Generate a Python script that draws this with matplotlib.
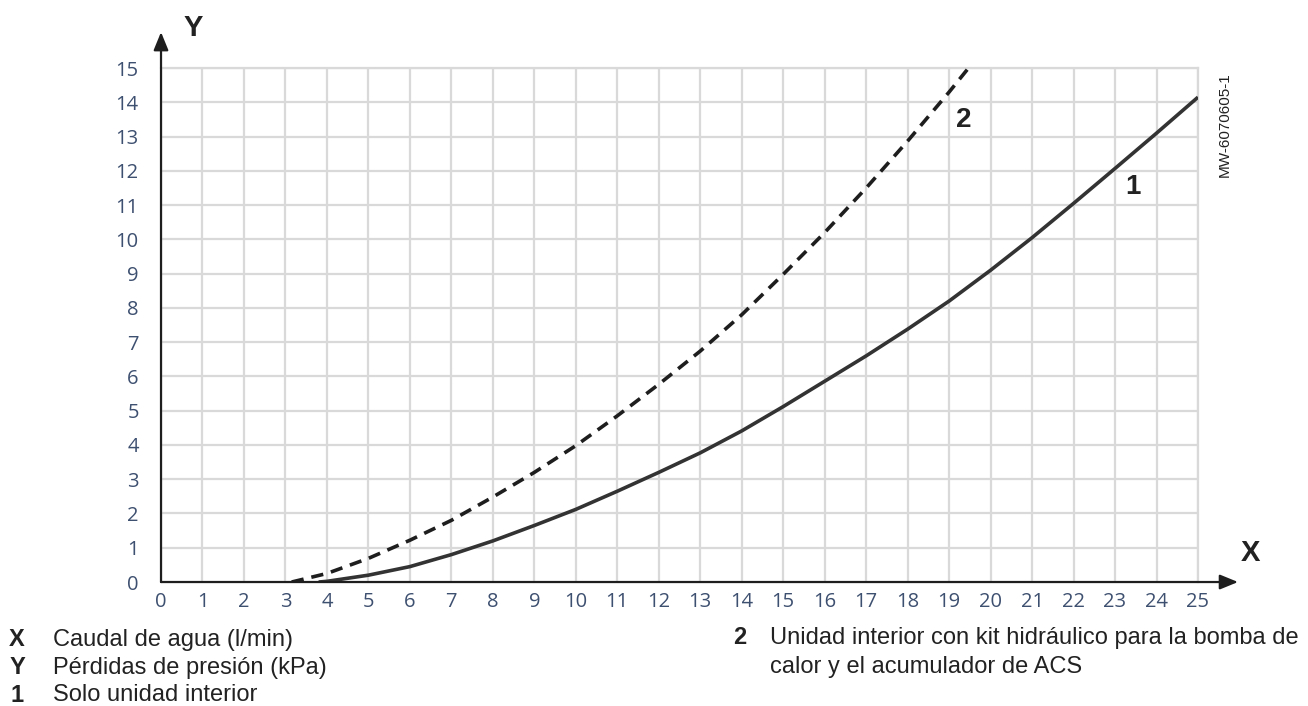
import matplotlib.pyplot as plt

# flow (l/min) and pressure loss (kPa)
x_unit = [3.8, 4, 5, 6, 7, 8, 9, 10, 11, 12, 13, 14, 15, 16, 17, 18, 19, 20, 21, 22, 23, 24, 25]
y_unit = [0.0, 0.02, 0.2, 0.45, 0.8, 1.2, 1.65, 2.12, 2.65, 3.2, 3.77, 4.41, 5.12, 5.86, 6.6,
          7.38, 8.2, 9.1, 10.05, 11.05, 12.07, 13.1, 14.15]

x_kit = [3.15, 4, 5, 6, 7, 8, 9, 10, 11, 12, 13, 14, 15, 16, 17, 18, 19, 19.5]
y_kit = [0.0, 0.25, 0.69, 1.22, 1.8, 2.48, 3.2, 3.98, 4.85, 5.77, 6.74, 7.8, 8.98, 10.2, 11.5,
         12.87, 14.3, 15.05]

x_ticks = list(range(0, 26))
y_ticks = list(range(0, 16))

tick_color = "#3e5070"
line_color = "#333333"

# tick labels use this family
plt.rcParams["font.family"] = ["Open Sans", "DejaVu Sans"]

fig = plt.figure(figsize=(13.08, 7.06), dpi=100)
ax = fig.add_axes([0.1231, 0.1756, 0.7928, 0.728])

ax.set_xlim(0, 25)
ax.set_ylim(0, 15)
ax.set_xticks(x_ticks)
ax.set_yticks(y_ticks)
ax.grid(True, color="#d9d9d9", linewidth=1.6, zorder=0)
ax.tick_params(length=0, colors=tick_color, labelsize=14.5)
ax.tick_params(axis="x", pad=7)
ax.tick_params(axis="y", pad=16)

for side in ["top", "right"]:
    ax.spines[side].set_color("#d9d9d9")
    ax.spines[side].set_linewidth(1.6)
for side in ["left", "bottom"]:
    ax.spines[side].set_visible(False)

# curves
ax.plot(x_unit, y_unit, color=line_color, linewidth=2.6, zorder=3, solid_capstyle="butt")
ax.plot(x_kit, y_kit, color="#1e1e1e", linewidth=2.6, linestyle=(0, (3.4, 2.2)), zorder=3,
        dash_capstyle="butt", clip_on=True)

ax.text(23.43, 11.53, "1", fontsize=20, fontweight="bold", color="#222222", ha="center",
        va="center", family="Liberation Sans")
ax.text(19.36, 13.48, "2", fontsize=20, fontweight="bold", color="#222222", ha="center",
        va="center", family="Liberation Sans")

# axis arrows
arrow = dict(arrowstyle="-|>,head_length=1.1,head_width=0.45", color="#1e1e1e", lw=1.6,
             shrinkA=0, shrinkB=0)
ax.annotate("", xy=(0, 1.07), xytext=(0, 0), xycoords="axes fraction",
            textcoords="axes fraction", arrowprops=arrow, annotation_clip=False)
ax.annotate("", xy=(1.0386, 0), xytext=(0, 0), xycoords="axes fraction",
            textcoords="axes fraction", arrowprops=arrow, annotation_clip=False)

fig.text(193 / 1308, 1 - 28 / 706, "Y", fontsize=21, fontweight="bold", color="#222222",
         ha="center", va="center", family="Liberation Sans")
fig.text(1250 / 1308, 1 - 553 / 706, "X", fontsize=21, fontweight="bold", color="#222222",
         ha="center", va="center", family="Liberation Sans")

fig.text(1225 / 1308, 1 - 125 / 706, "MW-6070605-1", fontsize=11, rotation=90,
         color="#222222", ha="center", va="center", family="Liberation Sans")

# key below the chart
key_font = dict(fontsize=17, color="#222222", va="center", family="Liberation Sans")
key_mark = dict(key_font, fontweight="bold", ha="center")
fig.text(17 / 1308, 1 - 640 / 706, "X", **key_mark)
fig.text(53 / 1308, 1 - 640 / 706, "Caudal de agua (l/min)", ha="left", **key_font)
fig.text(17 / 1308, 1 - 668 / 706, "Y", **key_mark)
fig.text(53 / 1308, 1 - 668 / 706, "Pérdidas de presión (kPa)", ha="left", **key_font)
fig.text(17 / 1308, 1 - 695 / 706, "1", **key_mark)
fig.text(53 / 1308, 1 - 695 / 706, "Solo unidad interior", ha="left", **key_font)
fig.text(740 / 1308, 1 - 638 / 706, "2", **key_mark)
fig.text(770 / 1308, 1 - 638 / 706, "Unidad interior con kit hidráulico para la bomba de",
         ha="left", **key_font)
fig.text(770 / 1308, 1 - 667 / 706, "calor y el acumulador de ACS", ha="left", **key_font)

fig.savefig("out.png", dpi=100)
